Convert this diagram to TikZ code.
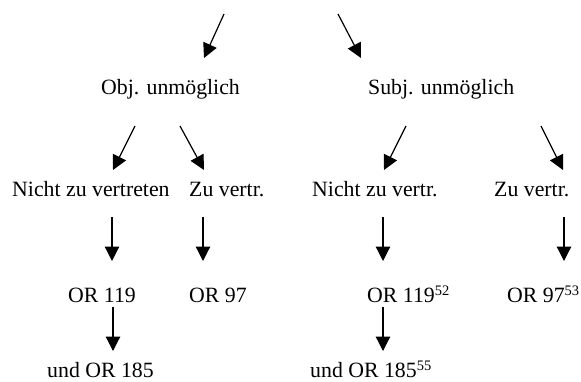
\documentclass[tikz,border=0pt]{standalone}
\usepackage{fontspec}
\setmainfont{Liberation Serif}
\usetikzlibrary{arrows.meta}
\newcommand{\supnum}[1]{\raisebox{7pt}{\fontsize{14.5}{15}\selectfont #1}}
\tikzset{
  lbl/.style={anchor=base west, inner sep=0pt, font=\fontsize{21.8}{26}\selectfont},
  arr/.style={line width=1.2pt, -{Triangle[length=14.5pt,width=14.5pt]}}
}
\begin{document}
\begin{tikzpicture}[x=1pt,y=-1pt]
\useasboundingbox (0,0) rectangle (581,381);
% text nodes
\node[lbl] (obj)  at (101,94) {Obj. unmöglich};
\node[lbl] (subj) at (368,94) {Subj. unmöglich};
\node[lbl] (nzv)  at (12,196) {Nicht zu vertreten};
\node[lbl] (zv1)  at (189,196) {Zu vertr.};
\node[lbl] (nzv2) at (312,196) {Nicht zu vertr.};
\node[lbl] (zv2)  at (494,196) {Zu vertr.};
\node[lbl] (or119) at (68,302) {OR 119};
\node[lbl] (or97)  at (189,302) {OR 97};
\node[lbl] (or119b) at (367,302) {OR 119\supnum{52}};
\node[lbl] (or97b)  at (507,302) {OR 97\supnum{53}};
\node[lbl] (or185)  at (47,377) {und OR 185};
\node[lbl] (or185b) at (310,377) {und OR 185\supnum{55}};
% arrow end points
\coordinate (a1s) at (224,14);  \coordinate (a1e) at (204,58);
\coordinate (a2s) at (338,14);  \coordinate (a2e) at (361,58);
\coordinate (b1s) at (135,126); \coordinate (b1e) at (113,170);
\coordinate (b2s) at (180,126); \coordinate (b2e) at (204,170);
\coordinate (b3s) at (406,126); \coordinate (b3e) at (384,170);
\coordinate (b4s) at (541,126); \coordinate (b4e) at (563,170);
\coordinate (c1s) at (112,217); \coordinate (c1e) at (112,261);
\coordinate (c2s) at (203,217); \coordinate (c2e) at (203,261);
\coordinate (c3s) at (383,217); \coordinate (c3e) at (383,261);
\coordinate (c4s) at (564,217); \coordinate (c4e) at (564,261);
\coordinate (d1s) at (113,307); \coordinate (d1e) at (113,351);
\coordinate (d2s) at (383,307); \coordinate (d2e) at (383,351);
% arrows
\draw[arr] (a1s) -- (a1e);
\draw[arr] (a2s) -- (a2e);
\draw[arr] (b1s) -- (b1e);
\draw[arr] (b2s) -- (b2e);
\draw[arr] (b3s) -- (b3e);
\draw[arr] (b4s) -- (b4e);
\draw[arr] (c1s) -- (c1e);
\draw[arr] (c2s) -- (c2e);
\draw[arr] (c3s) -- (c3e);
\draw[arr] (c4s) -- (c4e);
\draw[arr] (d1s) -- (d1e);
\draw[arr] (d2s) -- (d2e);
\end{tikzpicture}
\end{document}
